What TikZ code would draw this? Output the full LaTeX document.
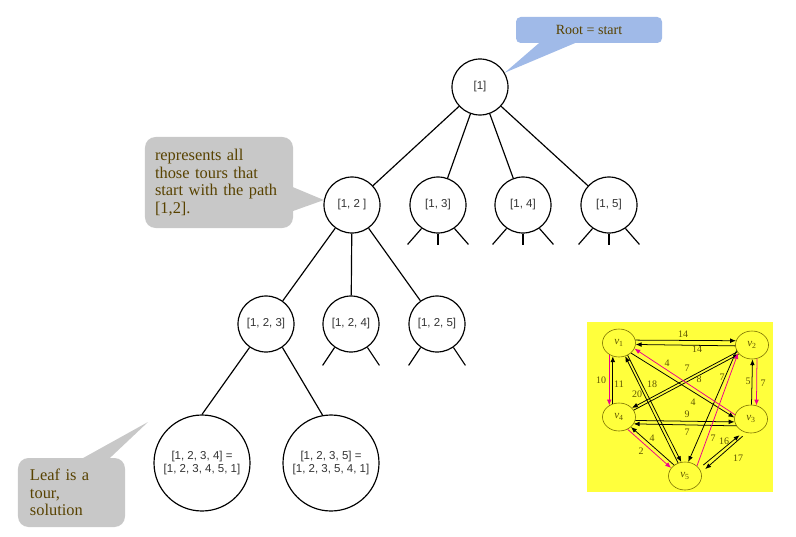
\documentclass[tikz,border=0pt]{standalone}
\usepackage{fontspec}
\setmainfont{Liberation Serif}
\setsansfont{Liberation Sans}
\usetikzlibrary{arrows.meta,shapes.geometric}

\definecolor{bubblegray}{RGB}{200,200,200}
\definecolor{bubbleblue}{RGB}{160,186,232}
\definecolor{bubbletext}{RGB}{88,66,0}
\definecolor{labelgray}{RGB}{50,50,50}
\definecolor{graphyellow}{RGB}{255,255,60}
\definecolor{vertexline}{RGB}{120,110,0}
\definecolor{weighttext}{RGB}{95,85,0}

\tikzset{
  partial/.style={circle, draw, line width=1pt, minimum size=1.68cm, inner sep=0pt,
    text=labelgray, font=\sffamily\fontsize{9.8}{11}\selectfont, align=center},
  tourleaf/.style={partial, minimum size=2.88cm},
  branch/.style={line width=1pt},
  bubble/.style={fill=bubblegray, text=bubbletext, rounded corners=9pt,
    font=\fontsize{14}{15}\selectfont, align=left},
  vertex/.style={ellipse, draw=vertexline, line width=0.5pt, minimum width=0.99cm,
    minimum height=0.84cm, inner sep=0pt, text=weighttext, font=\fontsize{9.5}{10}\selectfont},
  weight/.style={inner sep=0pt, text=weighttext, font=\fontsize{8.5}{9}\selectfont},
  blackarc/.style={line width=0.65pt, -{Latex[length=5pt,width=4pt]}},
  tourarc/.style={blackarc, draw=magenta},
  shortarc/.style={blackarc, shorten <=4.5pt, shorten >=4.5pt}
}

\begin{document}
\begin{tikzpicture}[x=0.03cm, y=-0.03cm]
\useasboundingbox (0,0) rectangle (796,536);

% search tree
\node[partial] (t1) at (480,87) {[1]};
\node[partial] (t12) at (352,205) {[1, 2 ]};
\node[partial] (t13) at (438,205) {[1, 3]};
\node[partial] (t14) at (523,205) {[1, 4]};
\node[partial] (t15) at (609,205) {[1, 5]};
\node[partial] (t123) at (266,324) {[1, 2, 3]};
\node[partial] (t124) at (351,324) {[1, 2, 4]};
\node[partial] (t125) at (437,324) {[1, 2, 5]};
\node[tourleaf] (t1234) at (202,463) {[1, 2, 3, 4] =\\{}[1, 2, 3, 4, 5, 1]};
\node[tourleaf] (t1235) at (331,463) {[1, 2, 3, 5] =\\{}[1, 2, 3, 5, 4, 1]};

% branches
\foreach \a/\b in {t1/t12, t1/t13, t1/t14, t1/t15, t12/t123, t12/t124, t12/t125}
  \draw[branch] (\a) -- (\b);
\draw[branch] (t123.-125) -- (t1234.north);
\draw[branch] (t123.-55) -- (t1235.100);

% subtrees not drawn
\foreach \t in {t13, t14, t15} {
  \draw[branch] (\t.-125) -- ++(-14,16);
  \draw[branch] (\t.south) -- ++(0,11);
  \draw[branch] (\t.-55) -- ++(14,16);
}
\foreach \t in {t124, t125} {
  \draw[branch] (\t.-125) -- ++(-12,18);
  \draw[branch] (\t.-55) -- ++(12,18);
}

% callouts
\node[bubble, fill=bubbleblue, rounded corners=4pt, font=\fontsize{12}{13}\selectfont,
  minimum width=4.38cm, minimum height=0.78cm, align=center] (rootnote) at (589,30) {Root = start};
\fill[bubbleblue] ([shift={(-49,-1)}]rootnote.south) -- (t1.30) -- ([shift={(-12,-1)}]rootnote.south) -- cycle;

\node[bubble, minimum width=4.44cm, minimum height=2.73cm, text width=3.84cm,
  inner xsep=0.3cm] (pathnote) at (219,182.5) {represents all\\those tours that\\start with the path\\{}[1,2].};
\fill[bubblegray] ([shift={(-3,3.5)}]pathnote.east) -- (t12.170) -- ([shift={(-3,29.5)}]pathnote.east) -- cycle;

\node[bubble, minimum width=3.21cm, minimum height=2.07cm, text width=2.49cm,
  inner xsep=0.36cm] (leafnote) at (71.5,492.5) {Leaf is a\\tour,\\solution};
\coordinate (leafpoint) at (148,422);
\fill[bubblegray] ([shift={(8.5,2)}]leafnote.north) -- (leafpoint) -- ([shift={(36.5,2)}]leafnote.north) -- cycle;

% instance graph
\fill[graphyellow] (587,322) rectangle (773,492);
\node[vertex] (v1) at (619,343) {\textit{v}\textsubscript{1}};
\node[vertex] (v2) at (752,345) {\textit{v}\textsubscript{2}};
\node[vertex] (v3) at (751,419) {\textit{v}\textsubscript{3}};
\node[vertex] (v4) at (619,417) {\textit{v}\textsubscript{4}};
\node[vertex] (v5) at (685,476) {\textit{v}\textsubscript{5}};

% arcs
\foreach \a/\b/\s in {v1.10/v2.165/blackarc, v2.183/v1.-5/blackarc,
    v4.115/v1.-115/blackarc, v1.-40/v3.175/blackarc,
    v4.25/v2.215/blackarc, v2.205/v4.35/blackarc,
    v5.118/v1.-65/blackarc, v1.-55/v5.105/blackarc,
    v3.88/v2.-88/blackarc, v4.-12/v3.190/blackarc, v3.205/v4.-25/blackarc,
    v5.135/v4.-40/blackarc, v2.-160/v5.77/blackarc,
    v5.28/v3.-120/shortarc, v3.-108/v5.12/shortarc,
    v1.-130/v4.130/tourarc, v4.-55/v5.150/tourarc, v5.40/v2.-150/tourarc,
    v2.-70/v3.68/tourarc, v3.165/v1.-20/tourarc}
  \draw[\s] (\a) -- (\b);

% weights
\foreach \x/\y/\w [count=\i] in {683/334/14, 697/349/14, 601/380/10, 619/384/11,
    667/363/4, 687/368/7, 699/379/8, 652/384/18, 637/394/20, 722/377/7,
    748/381/5, 763/383/7, 693/402/4, 687/414/9, 687/432/7, 652/438/4,
    713/438/7, 724/441/16, 641/451/2, 738/458/17}
  \node[weight] (w\i) at (\x,\y) {\w};

\end{tikzpicture}
\end{document}
